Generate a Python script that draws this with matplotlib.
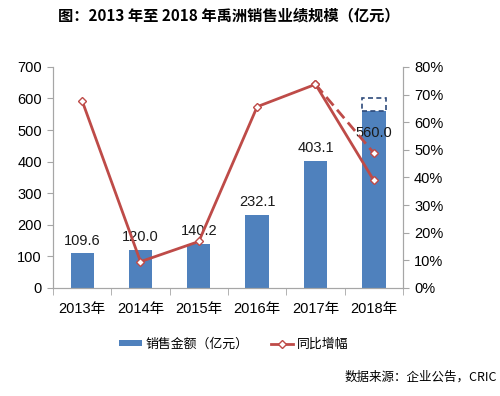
import matplotlib.pyplot as plt
from matplotlib.patches import Rectangle
from matplotlib.lines import Line2D
from matplotlib.patches import Patch

years = ['2013年', '2014年', '2015年', '2016年', '2017年', '2018年']
sales = [109.6, 120.0, 140.2, 232.1, 403.1, 560.0]
growth = [67.7, 9.5, 16.8, 65.6, 73.7, 38.9]
# dashed scenario for 2018 (target ~600 亿元)
sales_2018_alt = 600.0
growth_2018_alt = 48.8

fam = ['Liberation Sans', 'Noto Sans CJK SC']
cjk = ['Noto Sans CJK SC', 'DejaVu Sans']
plt.rcParams['font.family'] = fam

blue = '#4F81BD'
red = '#BE4B48'
grey = '#A6A6A6'

fig = plt.figure(figsize=(5.0, 3.96), dpi=100)
ax = fig.add_axes([0.106, 0.273, 0.70, 0.558])
x = list(range(len(years)))

ax.bar(x, sales, width=0.4, color=blue, zorder=2)
# dashed box on top of 2018 bar
ax.add_patch(Rectangle((x[-1] - 0.2, sales[-1]), 0.4, sales_2018_alt - sales[-1],
                       fill=False, edgecolor='#2E4A7A', linestyle=(0, (3, 2)),
                       linewidth=1.2, zorder=3))
for i, v in enumerate(sales):
    off = 4 if i < len(sales) - 1 else -21
    ax.annotate(f'{v:.1f}', (x[i], v), xytext=(0, off), textcoords='offset points',
                ha='center', va='bottom', fontsize=10.5, color='#1a1a1a', zorder=5)

ax.set_xlim(-0.5, 5.5)
ax.set_ylim(0, 700)
ax.set_yticks(range(0, 701, 100))
ax.set_xticks([i + 0.5 for i in range(-1, 6)], minor=True)
ax.set_xticks(x)
ax.set_xticklabels(years, fontsize=10.5)
ax.tick_params(axis='x', which='major', length=0, pad=10)
ax.tick_params(axis='x', which='minor', length=5, color=grey)
ax.tick_params(axis='y', length=4, color=grey, labelsize=10.5, pad=4)
ax.spines['top'].set_visible(False)
for s in ['left', 'bottom', 'right']:
    ax.spines[s].set_color(grey)

ax2 = ax.twinx()
ax2.plot(x[-2:], [growth[-2], growth_2018_alt], color=red, linestyle=(0, (4, 2)),
         linewidth=2, marker='D', markersize=4.5, markerfacecolor='white',
         markeredgecolor=red, zorder=4)
ax2.plot(x, growth, color=red, linewidth=2, marker='D', markersize=4.5,
         markerfacecolor='white', markeredgecolor=red, zorder=5)
ax2.set_ylim(0, 80)
ax2.set_yticks(range(0, 81, 10))
ax2.set_yticklabels([f'{v}%' for v in range(0, 81, 10)])
ax2.tick_params(axis='y', length=4, color=grey, labelsize=10.5, pad=4)
ax2.spines['top'].set_visible(False)
for s in ['left', 'bottom', 'right']:
    ax2.spines[s].set_color(grey)

fig.text(0.458, 0.962, '图：2013 年至 2018 年禹洲销售业绩规模（亿元）', ha='center', va='center',
         fontsize=11, fontweight='bold', family=cjk)

handles = [Patch(facecolor=blue, edgecolor='none'),
           Line2D([0], [0], color=red, linewidth=2, marker='D', markersize=4.5,
                  markerfacecolor='white', markeredgecolor=red)]
fig.legend(handles, ['销售金额（亿元）', '同比增幅'], loc='center', bbox_to_anchor=(0.468, 0.131),
           ncol=2, frameon=False, prop={'family': cjk, 'size': 9.3}, handlelength=1.75,
           handleheight=0.45, columnspacing=1.7, handletextpad=0.3)

fig.text(0.994, 0.048, '数据来源：企业公告，CRIC', ha='right', va='center', fontsize=9, family=cjk)

fig.savefig('out.png', dpi=100)
